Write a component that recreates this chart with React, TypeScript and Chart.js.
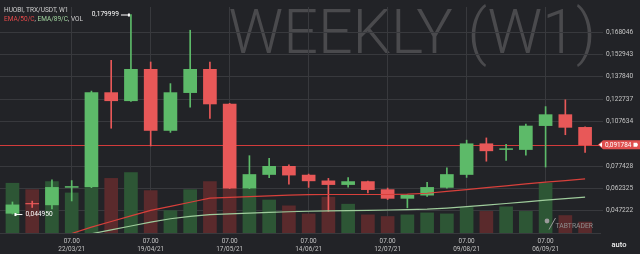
import React, { useEffect, useRef } from 'react';
import { Chart, registerables } from 'chart.js';

Chart.register(...registerables);

// ---- data ----
const weeks = [
  '01/03/21', '08/03/21', '15/03/21', '22/03/21', '29/03/21', '05/04/21', '12/04/21', '19/04/21',
  '26/04/21', '03/05/21', '10/05/21', '17/05/21', '24/05/21', '31/05/21', '07/06/21', '14/06/21',
  '21/06/21', '28/06/21', '05/07/21', '12/07/21', '19/07/21', '26/07/21', '02/08/21', '09/08/21',
  '16/08/21', '23/08/21', '30/08/21', '06/09/21', '13/09/21', '20/09/21',
];
const opens = [
  0.04545, 0.05215, 0.05116, 0.06300, 0.06340, 0.12713, 0.12162, 0.14289, 0.10152, 0.12713,
  0.14289, 0.11945, 0.06252, 0.07171, 0.07723, 0.07132, 0.06741, 0.06489, 0.06692, 0.06147,
  0.05556, 0.05773, 0.06298, 0.07171, 0.09253, 0.08860, 0.08860, 0.10480, 0.11222, 0.10362,
];
const highs = [
  0.05313, 0.05370, 0.06803, 0.06760, 0.12818, 0.14900, 0.179999, 0.14787, 0.13323, 0.16935,
  0.14787, 0.11990, 0.08445, 0.08268, 0.07830, 0.07200, 0.06909, 0.06955, 0.06720, 0.06253,
  0.05800, 0.06646, 0.07631, 0.09496, 0.09647, 0.09210, 0.10585, 0.11767, 0.12227, 0.10400,
];
const lows = [
  0.04495, 0.04940, 0.04834, 0.05380, 0.06280, 0.10303, 0.12120, 0.09102, 0.10021, 0.11728,
  0.10960, 0.06220, 0.06210, 0.06955, 0.06515, 0.06298, 0.04676, 0.06318, 0.05924, 0.05478,
  0.04913, 0.05690, 0.06250, 0.06974, 0.08071, 0.08120, 0.08485, 0.07677, 0.09863, 0.08662,
];
const closes = [
  0.05116, 0.05180, 0.06298, 0.06360, 0.12713, 0.12162, 0.14289, 0.10152, 0.12713, 0.14289,
  0.11945, 0.06252, 0.07171, 0.07723, 0.07132, 0.06741, 0.06489, 0.06692, 0.06147, 0.05556,
  0.05773, 0.06298, 0.07171, 0.09253, 0.08773, 0.08920, 0.10454, 0.11222, 0.10362, 0.091784,
];
const volumes = [
  513, 447, 530, 413, 520, 563, 623, 437, 230, 447, 530, 470, 470, 340, 280,
  197, 370, 297, 187, 170, 187, 207, 197, 263, 223, 270, 223, 513, 180, 113,
];
const ema50 = [
  null, null, null, 0.03179, 0.03613, 0.03993, 0.04368, 0.04742, 0.05018, 0.05293,
  0.05576, 0.05622, 0.05674, 0.05727, 0.05773, 0.05806, 0.05819, 0.05819, 0.05819, 0.05819,
  0.05838, 0.05904, 0.06035, 0.06147, 0.06278, 0.06403, 0.06534, 0.06653, 0.06758, 0.06869,
];
const ema89 = [
  null, null, null, null, 0.03160, 0.03422, 0.03685, 0.03947, 0.04177, 0.04335,
  0.04460, 0.04506, 0.04551, 0.04604, 0.04650, 0.04683, 0.04703, 0.04722, 0.04748, 0.04768,
  0.04794, 0.04827, 0.04900, 0.04998, 0.05103, 0.05208, 0.05320, 0.05431, 0.05543, 0.05641,
];
const priceTicks = [
  0.047222, 0.062325, 0.077428, 0.107634, 0.122737, 0.137840, 0.152943, 0.168046,
];
const dateTickIdx = [3, 7, 11, 15, 19, 23, 27];
const lastPrice = 0.091784;
const pairLabel = 'HUOBI, TRX/USDT, W1';
const watermark = 'WEEKLY (W1)';

// ---- styles ----
const BG = '#222327';
const GRID = '#38393d';
const UP = '#5dba69';
const DOWN = '#e85858';
const VOL_UP = '#2d5635';
const VOL_DOWN = '#5a2a2c';
const FONT = 'Roboto, "Noto Sans", sans-serif';

const fmt = (v: number) => v.toFixed(6).replace('.', ',');

const overlay = {
  id: 'overlay',
  beforeDraw(chart: any) {
    const { ctx, width, height } = chart;
    ctx.save();
    ctx.fillStyle = BG;
    ctx.fillRect(0, 0, width, height);
    ctx.fillStyle = '#4a4a4d';
    ctx.font = `300 61px ${FONT}`;
    ctx.textAlign = 'right';
    ctx.textBaseline = 'alphabetic';
    ctx.fillText(watermark, 596, 53);
    ctx.restore();
  },
  beforeDatasetsDraw(chart: any) {
    const { ctx, chartArea, scales } = chart;
    const y = Math.round(scales.y.getPixelForValue(lastPrice));
    ctx.save();
    ctx.fillStyle = '#d23b3b';
    ctx.fillRect(chartArea.left, y, chartArea.right - chartArea.left, 1);
    ctx.restore();
  },
  afterDraw(chart: any) {
    const { ctx, scales, chartArea } = chart;
    const xs = scales.x;
    const ys = scales.y;
    ctx.save();
    // legend
    ctx.textBaseline = 'middle';
    ctx.textAlign = 'left';
    ctx.font = `6.5px ${FONT}`;
    ctx.fillStyle = '#cfcfcf';
    ctx.fillText(pairLabel, 4, 10);
    let x = 4;
    const parts: [string, string][] = [
      ['EMA/50/C', '#e54a4a'], [', ', '#cfcfcf'], ['EMA/89/C', '#a2d6a0'], [', VOL', '#cfcfcf'],
    ];
    for (const [t, c] of parts) {
      ctx.fillStyle = c;
      ctx.fillText(t, x, 19);
      x += ctx.measureText(t).width;
    }
    // max high / min low annotations
    let hi = 0;
    let lo = 0;
    highs.forEach((v, i) => { if (v > highs[hi]) hi = i; });
    lows.forEach((v, i) => { if (v < lows[lo]) lo = i; });
    ctx.font = `6.6px ${FONT}`;
    ctx.fillStyle = '#ffffff';
    ctx.strokeStyle = '#ffffff';
    const hx = xs.getPixelForValue(hi);
    const hy = ys.getPixelForValue(highs[hi]);
    ctx.textAlign = 'right';
    ctx.fillText(fmt(highs[hi]), hx - 12, hy);
    ctx.beginPath();
    ctx.moveTo(hx - 10, hy + 0.5);
    ctx.lineTo(hx - 2, hy + 0.5);
    ctx.lineWidth = 1;
    ctx.stroke();
    ctx.fillRect(hx - 3, hy - 1, 2, 3);
    const lx = xs.getPixelForValue(lo);
    const ly = ys.getPixelForValue(lows[lo]);
    ctx.textAlign = 'left';
    ctx.fillText(fmt(lows[lo]), lx + 13, ly);
    ctx.beginPath();
    ctx.moveTo(lx + 3, ly + 0.5);
    ctx.lineTo(lx + 10, ly + 0.5);
    ctx.stroke();
    ctx.fillRect(lx + 2, ly - 1, 2, 3);
    // price tag
    const py = ys.getPixelForValue(lastPrice);
    const tl = chartArea.right - 2;
    ctx.fillStyle = '#e04f4f';
    ctx.beginPath();
    ctx.moveTo(tl, py);
    ctx.lineTo(tl + 5, py - 4.5);
    ctx.lineTo(640, py - 4.5);
    ctx.lineTo(640, py + 4.5);
    ctx.lineTo(tl + 5, py + 4.5);
    ctx.closePath();
    ctx.fill();
    ctx.fillStyle = '#ffffff';
    ctx.beginPath();
    ctx.moveTo(tl + 1, py);
    ctx.lineTo(tl + 4, py - 2.5);
    ctx.lineTo(tl + 4, py + 2.5);
    ctx.closePath();
    ctx.fill();
    ctx.font = `6.4px ${FONT}`;
    ctx.textAlign = 'left';
    ctx.fillText(fmt(lastPrice), chartArea.right + 5, py + 0.5);
    ctx.beginPath();
    ctx.moveTo(633.5, py - 2);
    ctx.lineTo(637, py - 2);
    ctx.lineTo(638, py);
    ctx.lineTo(637, py + 2);
    ctx.lineTo(633.5, py + 2);
    ctx.closePath();
    ctx.fill();
    // auto
    ctx.fillStyle = '#f2f2f2';
    ctx.font = `500 7.5px ${FONT}`;
    ctx.textAlign = 'center';
    ctx.fillText('auto', 619, 245);
    // TABTRADER mark
    ctx.fillStyle = '#9a9a9a';
    ctx.beginPath();
    ctx.arc(547, 221, 2.4, 0, Math.PI * 2);
    ctx.fill();
    ctx.strokeStyle = '#9a9a9a';
    ctx.lineWidth = 1;
    ctx.beginPath();
    ctx.moveTo(549, 229.5);
    ctx.lineTo(555.5, 218);
    ctx.stroke();
    ctx.fillStyle = '#8e8e8e';
    ctx.font = `6.8px ${FONT}`;
    ctx.textAlign = 'left';
    ctx.fillText('TABTRADER', 555.5, 226.5);
    ctx.restore();
  },
};

export default function App() {
  const ref = useRef<HTMLCanvasElement>(null);
  useEffect(() => {
    if (!ref.current) return;
    const idx = weeks.map((_, i) => i);
    const up = idx.map((i) => closes[i] >= opens[i]);
    const chart = new Chart(ref.current, {
      type: 'bar',
      data: {
        datasets: [
          {
            type: 'line',
            label: 'EMA/50/C',
            data: idx.map((i) => ({ x: i, y: ema50[i] })) as any,
            borderColor: '#d8403b',
            borderWidth: 1.2,
            pointRadius: 0,
            tension: 0,
            order: 0,
          } as any,
          {
            type: 'line',
            label: 'EMA/89/C',
            data: idx.map((i) => ({ x: i, y: ema89[i] })) as any,
            borderColor: '#9fcc9c',
            borderWidth: 1.2,
            pointRadius: 0,
            tension: 0,
            order: 0,
          } as any,
          {
            label: 'body',
            data: idx.map((i) => ({ x: i, y: [opens[i], closes[i]] })) as any,
            backgroundColor: idx.map((i) => (up[i] ? UP : DOWN)),
            barThickness: 13,
            grouped: false,
            borderSkipped: false,
            order: 1,
          } as any,
          {
            label: 'wick',
            data: idx.map((i) => ({ x: i, y: [lows[i], highs[i]] })) as any,
            backgroundColor: idx.map((i) => (up[i] ? UP : DOWN)),
            barThickness: 1,
            grouped: false,
            order: 2,
          } as any,
          {
            label: 'VOL',
            yAxisID: 'yVol',
            data: idx.map((i) => ({ x: i, y: volumes[i] })) as any,
            backgroundColor: idx.map((i) => (up[i] ? VOL_UP : VOL_DOWN)),
            barThickness: 13,
            grouped: false,
            order: 3,
          } as any,
        ],
      },
      options: {
        animation: false,
        responsive: false,
        devicePixelRatio: 1,
        layout: { padding: 0 },
        plugins: { legend: { display: false }, tooltip: { enabled: false } },
        scales: {
          x: {
            type: 'linear',
            min: -0.631,
            max: 29.755,
            offset: false,
            grid: { color: GRID, drawTicks: false, offset: false },
            border: { display: true, color: GRID },
            afterBuildTicks: (s: any) => { s.ticks = dateTickIdx.map((v) => ({ value: v })); },
            afterFit: (s: any) => { s.height = 21; },
            ticks: {
              autoSkip: false,
              maxRotation: 0,
              padding: 4,
              color: '#c4c4c4',
              font: { family: FONT, size: 6.4, lineHeight: 1.25 },
              callback: (v: any) => ['07.00', weeks[v as number]],
            },
          } as any,
          y: {
            type: 'linear',
            position: 'right',
            min: 0.032119,
            max: 0.18511,
            grid: { color: GRID, drawTicks: true, tickLength: 3 },
            border: { display: false },
            afterBuildTicks: (s: any) => { s.ticks = priceTicks.map((v) => ({ value: v })); },
            afterFit: (s: any) => { s.width = 40; },
            ticks: {
              padding: 3,
              color: '#c4c4c4',
              font: { family: FONT, size: 6.6 },
              callback: (v: any) => fmt(v as number),
            },
          } as any,
          yVol: {
            type: 'linear',
            display: false,
            min: 0,
            max: 2330,
          },
        },
      },
      plugins: [overlay],
    });
    return () => chart.destroy();
  }, []);
  return (
    <div style={{ position: 'absolute', left: 0, top: 0, width: 640, height: 254, background: BG }}>
      <canvas ref={ref} width={640} height={254} />
    </div>
  );
}
